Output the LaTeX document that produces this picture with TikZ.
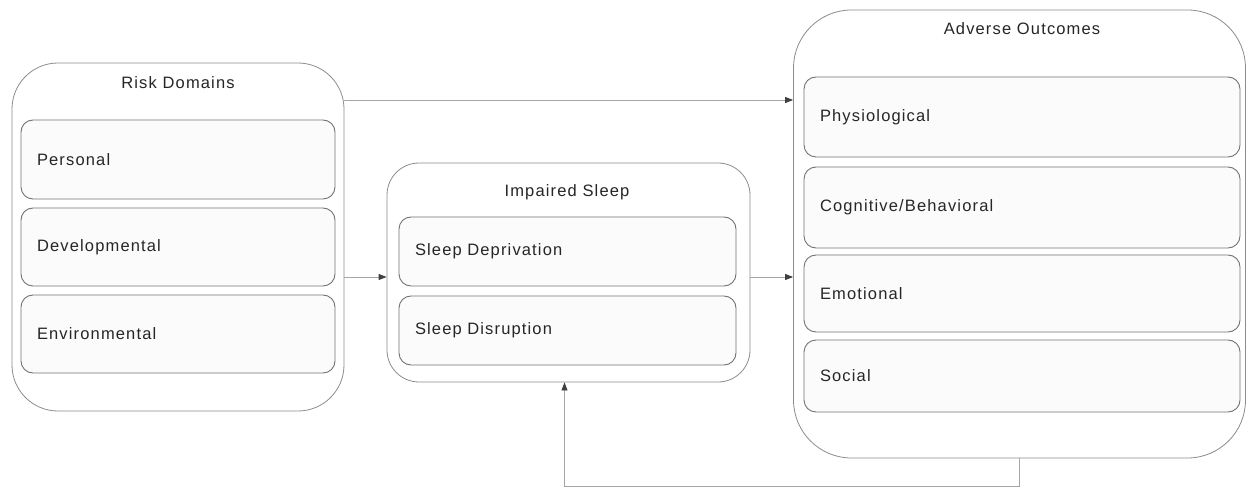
\documentclass[tikz,border=0pt]{standalone}
\usepackage{fontspec}
\setmainfont{Liberation Sans}[LetterSpace=7]
\usetikzlibrary{arrows.meta}
\begin{document}
\begin{tikzpicture}[x=1pt,y=-1pt,
  font=\fontsize{16.5}{19}\selectfont,
  every node/.style={text=black!85, inner sep=0pt},
  outerbox/.style={draw=black!45, line width=0.8pt, fill=white},
  innerbox/.style={draw=black!55, line width=0.9pt, fill=black!1.5, rounded corners=12pt, text width=#1, align=left, inner xsep=16pt},
  title/.style={},
  arr/.style={draw=black!35, line width=0.8pt, -{Triangle[length=8pt,width=6pt,color=black!75]}}
]
\useasboundingbox (0,0) rectangle (1248,489);
% Risk Domains
\node[outerbox, rounded corners=46pt, minimum width=332pt, minimum height=348pt] (risk) at (178,237) {};
\node[title] (riskt) at (178,83) {Risk Domains};
\node[innerbox=282pt, minimum height=79pt] (pers) at (178,159.5) {Personal};
\node[innerbox=282pt, minimum height=78pt] (dev) at (178,247) {Developmental};
\node[innerbox=282pt, minimum height=78pt] (env) at (178,334) {Environmental};
% Impaired Sleep
\node[outerbox, rounded corners=32pt, minimum width=363pt, minimum height=219pt] (imp) at (568.5,272.5) {};
\node[title] (impt) at (567,192) {Impaired Sleep};
\node[innerbox=305pt, minimum height=69pt] (dep) at (567.5,251.5) {Sleep Deprivation};
\node[innerbox=305pt, minimum height=69pt] (dis) at (567.5,330.5) {Sleep Disruption};
% Adverse Outcomes
\node[outerbox, rounded corners=58pt, minimum width=452pt, minimum height=448pt] (adv) at (1019.5,234) {};
\node[title] (advt) at (1022,29) {Adverse Outcomes};
\node[innerbox=404pt, minimum height=80pt] (phy) at (1022,117) {Physiological};
\node[innerbox=404pt, minimum height=81pt] (cog) at (1022,207.5) {Cognitive/Behavioral};
\node[innerbox=404pt, minimum height=77pt] (emo) at (1022,293.5) {Emotional};
\node[innerbox=404pt, minimum height=72pt] (soc) at (1022,376) {Social};
% connectors
\draw[arr] (risk.east |- 0,100) -- (adv.west |- 0,100);
\draw[arr] (risk.east |- 0,277) -- (imp.west |- 0,277);
\draw[arr] (imp.east |- 0,277) -- (adv.west |- 0,277);
\draw[arr] (adv.south) -- ++(0,28) -| ([xshift=-4pt]imp.south);
\end{tikzpicture}
\end{document}
